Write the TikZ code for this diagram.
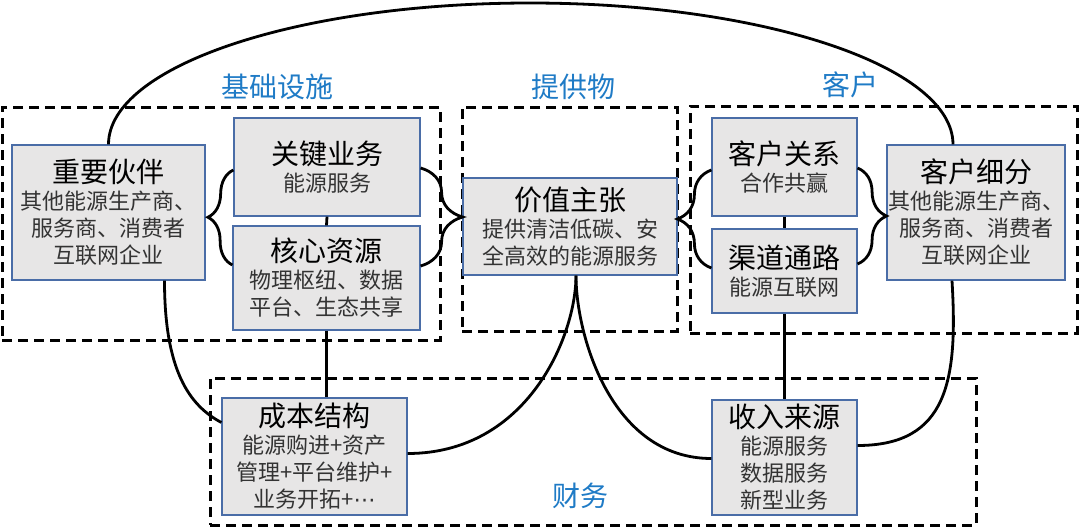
\documentclass[tikz,border=0pt]{standalone}
\usepackage{fontspec}
\setmainfont{Noto Sans CJK SC}
\newfontfamily\symfont{DejaVu Sans}
\usepackage{xcolor}
\usepackage{tikz}
\usetikzlibrary{decorations.pathreplacing}

\definecolor{boxfill}{HTML}{E7E6E6}
\definecolor{boxline}{HTML}{4A6DA7}
\definecolor{zoneblue}{HTML}{1F7BC6}
\definecolor{subgray}{HTML}{333333}

\newcommand{\blocktitle}[1]{{\fontsize{28}{30}\selectfont\color{black}#1}}

\begin{document}
\begin{tikzpicture}[
  x=1pt, y=-1pt,
  block/.style={draw=boxline, line width=1.2pt, fill=boxfill, align=center,
    inner sep=0pt, text=subgray, font=\fontsize{22}{27}\selectfont},
  zone/.style={draw, line width=3pt, dash pattern=on 10pt off 6pt,
    inner sep=0pt},
  zonelbl/.style={text=zoneblue, font=\fontsize{28}{30}\selectfont},
  link/.style={line width=2.8pt},
  curly/.style={line width=2.8pt, decorate}
]
\useasboundingbox (0,0) rectangle (1080,530);

% dashed areas
\node[zone, minimum width=438, minimum height=233] (infra) at (221,223.5) {};
\node[zone, minimum width=215, minimum height=224] (offer) at (569.5,219) {};
\node[zone, minimum width=387, minimum height=227] (cust) at (883.5,219.5) {};
\node[zone, minimum width=766, minimum height=147] (fin) at (593,451.5) {};

\node[zonelbl] (infralbl) at (277,87) {基础设施};
\node[zonelbl] (offerlbl) at (573,87) {提供物};
\node[zonelbl] (custlbl) at (850,85) {客户};
\node[zonelbl] (finlbl) at (580,496) {财务};

% building blocks
\node[block, minimum width=193, minimum height=135] (partner) at (108.5,212.5)
  {\blocktitle{重要伙伴}\\其他能源生产商、\\服务商、消费者\\互联网企业};
\node[block, minimum width=186, minimum height=98] (keyact) at (327,167)
  {\blocktitle{关键业务}\\能源服务};
\node[block, minimum width=187, minimum height=104] (keyres) at (326.5,278)
  {\blocktitle{核心资源}\\物理枢纽、数据\\平台、生态共享};
\node[block, minimum width=214, minimum height=97] (value) at (570,226.5)
  {\blocktitle{价值主张}\\提供清洁低碳、安\\全高效的能源服务};
\node[block, minimum width=145, minimum height=98] (custrel) at (784.5,167)
  {\blocktitle{客户关系}\\合作共赢};
\node[block, minimum width=145, minimum height=84] (channel) at (784.5,271)
  {\blocktitle{渠道通路}\\能源互联网};
\node[block, minimum width=178, minimum height=135] (segment) at (976,212.5)
  {\blocktitle{客户细分}\\其他能源生产商、\\服务商、消费者\\互联网企业};
\node[block, minimum width=185, minimum height=117] (cost) at (314.5,456.5)
  {\blocktitle{成本结构}\\能源购进+资产\\管理+平台维护+\\业务开拓+{\symfont ⋯}};
\node[block, minimum width=145, minimum height=115] (revenue) at (784.5,457.5)
  {\blocktitle{收入来源}\\能源服务\\数据服务\\新型业务};

% braces
\draw[curly, decoration={brace, amplitude=25pt}]
  ([yshift=13pt]keyres.west) -- ([yshift=-3pt]keyact.west);
\draw[curly, decoration={brace, amplitude=42pt}]
  ([yshift=-1pt]keyact.east) -- ([yshift=12pt]keyres.east);
\draw[curly, decoration={brace, amplitude=34pt}]
  ([yshift=3pt]channel.west) -- ([yshift=-3pt]custrel.west);
\draw[curly, decoration={brace, amplitude=29pt}]
  ([yshift=-1pt]custrel.east) -- ([yshift=7pt]channel.east);

% links
\draw[link] (keyact.south) -- (keyres.north);
\draw[link] (custrel.south) -- (channel.north);
\draw[link] (keyres.south) -- (keyres.south |- cost.north);
\draw[link] (channel.south) -- (revenue.north);
\draw[link] (partner.north) .. controls +(0,-78) and +(-233,0) .. (530,3)
  .. controls +(233,0) and +(0,-78) .. ([xshift=-23pt]segment.north);
\draw[link] ([xshift=56pt]partner.south) .. controls +(0,90) and +(-32,-17)
  .. ([yshift=34pt]cost.west);
\draw[link] ([yshift=3pt]cost.east) .. controls +(120,0) and +(0,60)
  .. ([xshift=6pt]value.south);
\draw[link] ([xshift=6pt]value.south) .. controls +(0,60) and +(-100,0)
  .. ([yshift=-1pt]revenue.west);
\draw[link] ([xshift=-24pt]segment.south) .. controls +(6,100) and +(90,0)
  .. ([yshift=12pt]revenue.east);

\end{tikzpicture}
\end{document}
